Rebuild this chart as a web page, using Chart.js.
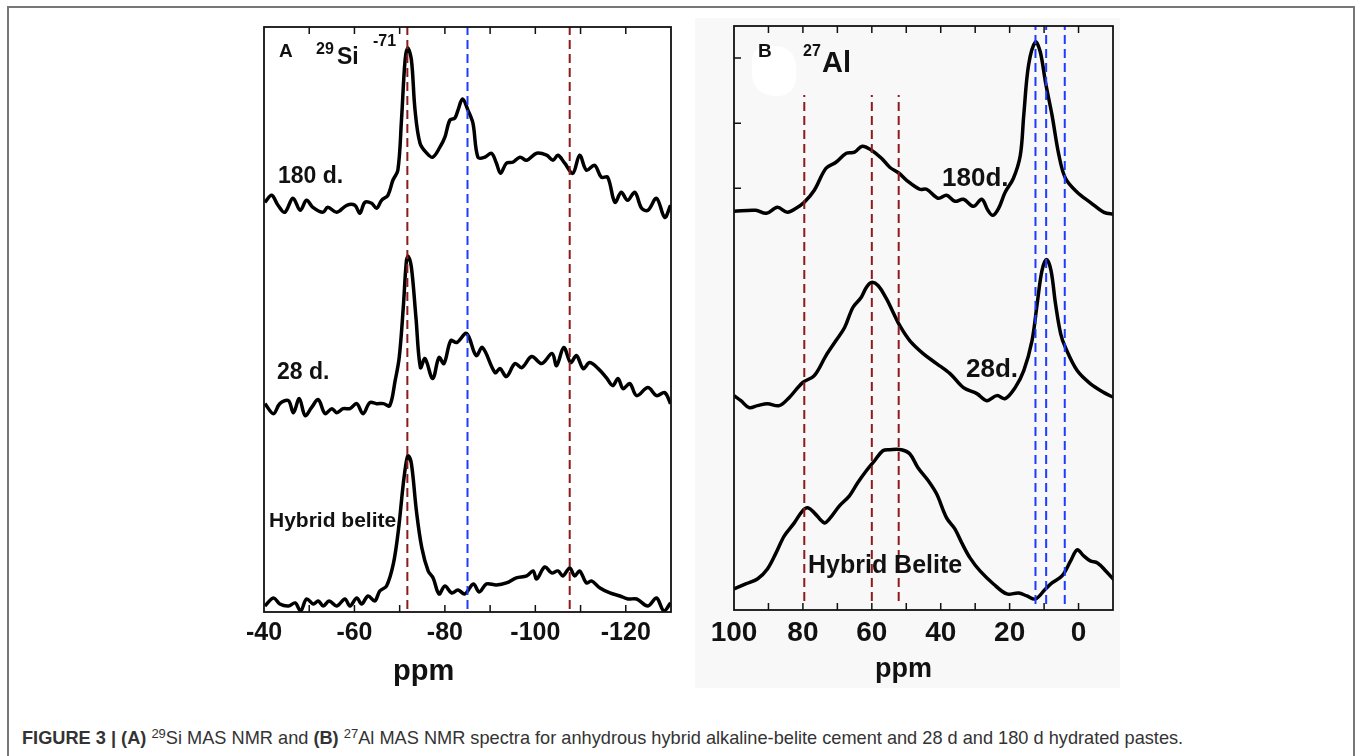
<!DOCTYPE html>
<html>
<head>
<meta charset="utf-8">
<script src="https://cdn.jsdelivr.net/npm/chart.js@4.4.1/dist/chart.umd.min.js"></script>
<style>
  body { margin: 0; width: 1358px; height: 756px; background: #fff; position: relative; overflow: hidden; font-family: 'Liberation Sans', Arial, sans-serif; }
  .frame { position: absolute; left: 7px; top: 6px; width: 1344px; height: 770px; border: 2px solid #777; }
  .greyB { position: absolute; left: 695px; top: 18px; width: 425px; height: 670px; background: #f8f8f8; }
  .blob { position: absolute; left: 752px; top: 46px; width: 44px; height: 50px; background: #fff; border-radius: 14px 20px 18px 22px; }
  canvas { position: absolute; }
  .t { position: absolute; font-weight: bold; line-height: 1; color: #111; white-space: nowrap; }
  .cap { position: absolute; left: 22px; top: 728px; font-size: 18.2px; color: #333; white-space: nowrap; }
  .cap sup { font-size: 13px; vertical-align: 6px; line-height: 0; }
</style>
</head>
<body>
<div class="frame"></div>
<div class="greyB"></div>
<div class="blob"></div>

<canvas id="siChart" style="left:224px; top:16px;" width="480" height="640"></canvas>
<canvas id="alChart" style="left:694px; top:16px;" width="440" height="640"></canvas>

<!-- panel A labels -->
<div class="t" style="left:279px; top:41px; font-size:19px;">A</div>
<div class="t" style="left:316px; top:41px; font-size:16px;">29</div>
<div class="t" style="left:337px; top:45px; font-size:23px;">Si</div>
<div class="t" style="left:373px; top:33px; font-size:16px;">-71</div>
<div class="t" style="left:278px; top:164px; font-size:23px;">180 d.</div>
<div class="t" style="left:277px; top:360px; font-size:23px;">28 d.</div>
<div class="t" style="left:269px; top:509px; font-size:21px;">Hybrid belite</div>
<div class="t" style="left:393px; top:656px; font-size:29px;">ppm</div>

<!-- panel B labels -->
<div class="t" style="left:758px; top:41px; font-size:19px;">B</div>
<div class="t" style="left:803px; top:43px; font-size:16px;">27</div>
<div class="t" style="left:822px; top:48px; font-size:29px;">Al</div>
<div class="t" style="left:942px; top:164px; font-size:26px;">180d.</div>
<div class="t" style="left:966px; top:355px; font-size:26px;">28d.</div>
<div class="t" style="left:808px; top:552px; font-size:25px;">Hybrid Belite</div>
<div class="t" style="left:875px; top:655px; font-size:27px;">ppm</div>

<div class="cap"><b>FIGURE 3 | (A)</b> <sup>29</sup>Si MAS NMR and <b>(B)</b> <sup>27</sup>Al MAS NMR spectra for anhydrous hybrid alkaline-belite cement and 28 d and 180 d hydrated pastes.</div>

<script>
// 29Si spectra (ppm, intensity above own baseline)
const siPpm180 = [-40.2,-41.7,-43.1,-44.6,-46.4,-48.0,-49.4,-50.8,-53.0,-54.1,-56.1,-58.3,-60.1,-61.2,-62.3,-63.8,-64.9,-66.0,-67.4,-68.5,-69.6,-70.4,-71.2,-71.8,-72.6,-73.4,-74.5,-76.0,-77.3,-78.9,-80.0,-81.1,-82.2,-82.9,-83.9,-85.1,-86.2,-87.3,-88.8,-90.3,-91.4,-92.3,-93.6,-95.0,-96.6,-98.1,-100.3,-102.5,-103.9,-105.0,-106.5,-108.3,-109.8,-111.3,-113.1,-114.6,-116.0,-117.6,-119.0,-120.4,-122.0,-123.5,-124.9,-126.8,-128.6,-129.9];
const siInt180 = [3,10,0,-7,7,-5,5,-2,-7,-2,-7,0,0,-8,3,2,-3,5,10,25,35,85,145,157,145,95,62,52,48,58,68,85,87,95,106,95,82,48,48,52,42,32,42,43,48,45,52,50,45,50,42,32,50,35,40,28,28,3,13,5,13,-3,-5,7,-12,0];

const siPpm28 = [-40.2,-42.1,-43.5,-45.4,-46.5,-47.8,-49.1,-50.5,-52.0,-53.5,-55.0,-56.1,-57.5,-59.0,-60.5,-61.9,-63.4,-64.9,-66.4,-67.8,-69.0,-69.9,-70.8,-71.5,-71.9,-72.6,-73.6,-74.6,-75.6,-77.3,-78.7,-79.8,-81.3,-82.6,-84.8,-86.9,-88.3,-91.1,-92.2,-93.6,-95.5,-97.0,-99.2,-101.4,-103.7,-104.7,-106.3,-107.8,-109.1,-110.6,-112.0,-113.9,-115.7,-117.1,-118.3,-119.4,-120.9,-122.4,-124.9,-126.8,-128.6,-129.9];
const siInt28 = [5,-5,5,8,-4,10,-7,1,9,-5,0,-4,0,0,5,-5,6,5,5,3,28,51,101,148,152,141,91,41,50,30,51,45,68,66,75,53,61,36,40,32,45,41,52,45,55,43,61,46,53,40,46,40,31,23,30,20,25,13,21,13,16,5];

const siPpmHyb = [-40.2,-42.1,-43.5,-45.4,-46.9,-48.1,-49.4,-50.9,-52.0,-53.1,-54.4,-56.1,-57.9,-59.0,-60.5,-61.6,-63.0,-64.5,-65.6,-67.1,-68.6,-69.7,-70.8,-71.5,-71.9,-72.6,-73.7,-74.9,-76.3,-77.4,-78.7,-80.0,-81.5,-82.9,-84.4,-86.3,-87.6,-89.2,-91.4,-93.6,-95.8,-98.1,-99.5,-100.3,-102.1,-103.6,-105.0,-106.1,-107.6,-108.7,-109.8,-111.3,-112.4,-114.3,-116.5,-118.7,-120.5,-122.4,-124.9,-126.8,-128.4,-129.9];
const siIntHyb = [-2,6,0,-2,1,-7,5,0,3,-2,3,-2,5,-2,6,0,8,3,13,18,40,73,120,143,148,140,93,56,33,26,10,18,11,14,10,20,12,20,19,21,26,28,33,25,37,31,33,28,36,28,33,21,23,16,11,8,5,5,-2,6,-7,1];

// 27Al spectra
const alPpm180 = [100,93.7,90.6,87.4,84.5,82.0,79.6,76.7,73.3,70.4,67.4,65.0,62.8,60.1,57.2,54.8,52.1,49.9,46.1,44.1,40.7,38.3,35.9,33.4,30.5,28.1,26.3,24.9,23.2,21.3,18.9,16.9,15.9,14.5,12.5,11.1,9.6,7.7,5.7,3.8,0.4,-3.4,-7.4,-10.3];
const alInt180 = [0,1,-2,4,-1,3,9,21,43,49,58,59,65,61,53,44,38,31,22,22,13,16,10,12,5,12,1,-4,3,19,33,56,96,146,169,159,129,96,56,33,19,9,-1,-3];

const alPpm28 = [100,98.0,95.6,93.2,90.3,86.9,84.0,80.1,76.7,73.3,70.4,67.9,65.5,63.1,61.6,60.1,58.2,55.8,53.8,51.9,49.0,45.1,41.2,37.3,33.4,29.5,26.6,23.7,21.3,18.4,15.9,13.5,12.0,10.6,9.3,8.0,6.7,5.2,3.8,0.4,-3.4,-7.4,-10.3];
const alInt28 = [5,0,-7,-5,-3,-5,3,18,25,45,60,73,93,103,113,118,115,102,88,75,60,47,37,27,13,7,0,5,2,13,30,60,97,130,141,130,97,67,53,30,17,8,3];

const alPpmHyb = [100,96.6,93.2,90.3,87.8,85.4,82.5,80.1,78.6,76.7,73.8,72.3,69.4,66.5,64.1,61.6,59.2,56.8,54.8,51.4,49.0,46.6,43.6,41.2,38.3,35.9,33.9,31.5,28.6,24.7,20.8,17.4,15.0,12.5,9.6,7.7,4.8,2.3,0.4,-1.5,-3.4,-5.5,-7.9,-10.3];
const alIntHyb = [12,17,22,32,48,65,78,90,93,88,78,82,95,105,118,130,140,150,151,151,147,133,120,107,83,72,58,43,30,17,7,8,5,2,12,18,25,40,51,45,40,38,30,21];

// tick labels and reference lines
const siTickLabels = [-40, -60, -80, -100, -120];
const siMinorTicks = [-50, -60, -70, -80, -90, -100, -110, -120];
const siRedLines = [-71.7, -107.6];
const siBlueLines = [-85];

const alTickLabels = [100, 80, 60, 40, 20, 0];
const alMinorTicks = [90, 80, 70, 60, 50, 40, 30, 20, 10, 0];
const alRedLines = [79.6, 60, 52.2];
const alBlueLines = [12.5, 9.4, 4.0];

// vertical stacking of the spectra (y units)
const siOffsets = [406, 203, 8];   // 180 d, 28 d, hybrid
const alOffsets = [398, 209, 9];

const RED = '#8e1b1b';
const BLUE = '#1e3cff';

Chart.defaults.font.family = "'Liberation Sans', Arial, sans-serif";
Chart.defaults.color = '#111';

const frameTicks = {
    id: 'frameTicks',
    afterDatasetsDraw(chart, args, opts) {
        const {ctx, chartArea: a, scales: {x, y}} = chart;
        ctx.save();
        ctx.strokeStyle = '#111';
        ctx.lineWidth = 1.8;
        ctx.strokeRect(a.left, a.top, a.width, a.height);
        ctx.lineWidth = 1.5;
        ctx.beginPath();
        opts.xMinor.forEach(v => {
            const px = x.getPixelForValue(v);
            ctx.moveTo(px, a.top); ctx.lineTo(px, a.top + 7);
            ctx.moveTo(px, a.bottom); ctx.lineTo(px, a.bottom - 7);
        });
        (opts.yMinor || []).forEach(v => {
            const py = y.getPixelForValue(v);
            ctx.moveTo(a.left, py); ctx.lineTo(a.left + 7, py);
        });
        ctx.stroke();
        ctx.restore();
    }
};

const spectrum = (ppm, vals, off) => ({
    data: ppm.map((p, i) => ({x: p, y: vals[i] + off})),
    borderColor: '#000',
    borderWidth: 3.5,
    pointRadius: 0,
    tension: 0.35,
    fill: false
});

const marker = (pos, color, y0, y1) => ({
    data: [{x: pos, y: y0}, {x: pos, y: y1}],
    borderColor: color,
    borderWidth: 2,
    borderDash: [9, 5],
    pointRadius: 0,
    tension: 0
});

const axisX = (min, max, labels, fontSize) => ({
    type: 'linear',
    min: min,
    max: max,
    reverse: true,
    afterBuildTicks: (scale) => { scale.ticks = labels.map(v => ({value: v})); },
    grid: {display: false, drawTicks: false},
    border: {display: false},
    ticks: {
        padding: 6,
        font: {size: fontSize, weight: 'bold'},
        color: '#111',
        maxRotation: 0,
        autoSkip: false
    }
});

// panel A: 29Si
new Chart(document.getElementById('siChart'), {
    type: 'line',
    data: {
        datasets: [
            ...siRedLines.map(p => marker(p, RED, 3, 584)),
            ...siBlueLines.map(p => marker(p, BLUE, 3, 584)),
            spectrum(siPpm180, siInt180, siOffsets[0]),
            spectrum(siPpm28, siInt28, siOffsets[1]),
            spectrum(siPpmHyb, siIntHyb, siOffsets[2])
        ]
    },
    options: {
        responsive: false,
        animation: false,
        layout: {padding: {left: 40, right: 33, top: 11, bottom: 2}},
        scales: {
            x: axisX(-130, -40, siTickLabels, 25),
            y: {type: 'linear', min: 0, max: 584, display: false}
        },
        plugins: {
            legend: {display: false},
            tooltip: {enabled: false},
            frameTicks: {xMinor: siMinorTicks}
        }
    },
    plugins: [frameTicks]
});

// panel B: 27Al
new Chart(document.getElementById('alChart'), {
    type: 'line',
    data: {
        datasets: [
            ...alRedLines.map(p => marker(p, RED, 9, 514)),
            ...alBlueLines.map(p => marker(p, BLUE, 6, 583)),
            spectrum(alPpm180, alInt180, alOffsets[0]),
            spectrum(alPpm28, alInt28, alOffsets[1]),
            spectrum(alPpmHyb, alIntHyb, alOffsets[2])
        ]
    },
    options: {
        responsive: false,
        animation: false,
        layout: {padding: {left: 40, right: 21, top: 10, bottom: 0.4}},
        scales: {
            x: axisX(-10, 100, alTickLabels, 28),
            y: {type: 'linear', min: 0, max: 583, display: false}
        },
        plugins: {
            legend: {display: false},
            tooltip: {enabled: false},
            frameTicks: {xMinor: alMinorTicks, yMinor: [421, 486, 551]}
        }
    },
    plugins: [frameTicks]
});
</script>
</body>
</html>
